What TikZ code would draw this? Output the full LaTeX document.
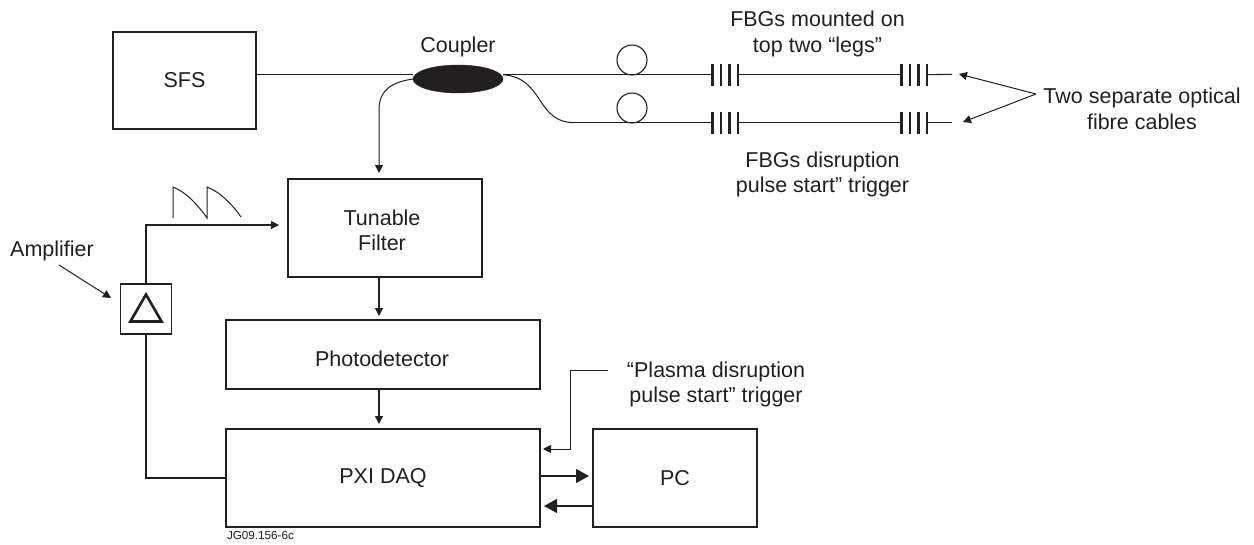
\documentclass[tikz,border=0pt]{standalone}
\usepackage{fontspec}
\setmainfont{Liberation Sans}
\usetikzlibrary{arrows.meta,shapes.geometric}
\definecolor{ink}{HTML}{231F20}
\tikzset{
  x=1pt,y=-1pt,
  every node/.style={font=\fontsize{21.5}{25.5}\selectfont,text=ink},
  box/.style={draw=ink,line width=1.1pt,rectangle,inner sep=0pt,outer sep=0pt},
  lbl/.style={align=center,inner sep=0pt},
  wire/.style={draw=ink,line width=1.1pt},
  thin wire/.style={draw=ink,line width=1pt},
  smalltip/.style={-{Triangle[length=8pt,width=8pt]}},
  bigtip/.style={-{Triangle[length=13pt,width=14pt]}},
  loopc/.style={draw=ink,line width=1.1pt,circle,minimum size=30pt,inner sep=0pt,outer sep=0pt},
  bar/.style={draw=ink,line width=2.5pt}
}
\newcommand{\gratingbars}[2]{%
  \foreach \gx in {0,8.4,16.8,25.2}{\draw[bar] (#1+\gx,#2-11) -- (#1+\gx,#2+11);}
}
\begin{document}
\begin{tikzpicture}
\useasboundingbox[fill=white] (0,0) rectangle (1254,544);
% boxes
\node[box,minimum width=143pt,minimum height=97pt] (sfs) at (184.5,80.5) {SFS};
\node[box,minimum width=194pt,minimum height=98pt,label={[lbl,name=tfilter,xshift=-3pt,yshift=-2.5pt]center:Tunable\\Filter}] (filter) at (385,228) {};
\node[box,minimum width=314pt,minimum height=69pt,label={[lbl,name=tpd,xshift=-1pt,yshift=-4pt]center:Photodetector}] (pd) at (383,354.5) {};
\node[box,minimum width=314pt,minimum height=98pt] (daq) at (383,478) {PXI DAQ};
\node[box,minimum width=164pt,minimum height=98pt] (pc) at (675,478) {PC};
\node[box,minimum width=51pt,minimum height=50pt] (amp) at (146,309) {};
\node[draw=ink,line width=2.6pt,regular polygon,regular polygon sides=3,inner sep=0pt,minimum size=36pt] (tri) at (146,312.5) {};
% coupler and loops
\node[ellipse,fill=ink,draw=ink,minimum width=90pt,minimum height=28pt,inner sep=0pt,outer sep=0pt] (coupler) at (458,79) {};
\node[loopc] (loopa) at (632,60) {};
\node[loopc] (loopb) at (632,108) {};
% labels
\node[lbl] (tcoupler) at (458,47) {Coupler};
\node[lbl] (tlegs) at (817.5,34) {FBGs mounted on\\top two “legs”};
\node[lbl] (tdis) at (822.5,174.5) {FBGs disruption\\pulse start” trigger};
\node[lbl] (tcables) at (1142,109) {Two separate optical\\fibre cables};
\node[lbl] (tamp) at (52,251) {Amplifier};
\node[lbl] (ttrig) at (716,384.5) {“Plasma disruption\\pulse start” trigger};
\node[lbl,font=\fontsize{11.7}{14}\selectfont] (tjg) at (260.5,535) {JG09.156-6c};
% free ends
\coordinate (s0) at (257,74.7);
\coordinate (c0) at (413,74.7);
\coordinate (c1) at (503,74.7);
\coordinate (a1) at (712.7,74.7);
\coordinate (a2) at (738,74.7);
\coordinate (a3) at (901.7,74.7);
\coordinate (a4) at (926.7,74.7);
\coordinate (a5) at (952,74.3);
\coordinate (b0) at (575,122.7);
\coordinate (b1) at (712.7,122.7);
\coordinate (b2) at (738,122.7);
\coordinate (b3) at (901.7,122.7);
\coordinate (b4) at (926.7,122.7);
\coordinate (b5) at (952,122.7);
\coordinate (apex) at (1036,94);
\coordinate (tip1) at (959,74);
\coordinate (tip2) at (963,122);
% optical fibre
\draw[wire] (s0) -- (c0);
\draw[wire] (c1) -- (a1);
\draw[wire] (a2) -- (a3);
\draw[wire] (a4) -- (a5);
\draw[thin wire] (c1) .. controls (545,78) and (535,122.7) .. (b0);
\draw[wire] (b0) -- (b1);
\draw[wire] (b2) -- (b3);
\draw[wire] (b4) -- (b5);
\gratingbars{712.7}{75}
\gratingbars{901.7}{75}
\gratingbars{712.7}{123}
\gratingbars{901.7}{123}
\coordinate (bend) at (379,110);
\coordinate (filtertip) at (379,173);
\draw[thin wire,smalltip] (coupler.west) .. controls (392,82) and (379,90) .. (bend) -- (filtertip);
% annotation arrows
\draw[thin wire,smalltip] (apex) -- (tip1);
\draw[thin wire,smalltip] (apex) -- (tip2);
% block connections
\coordinate (pdtip) at (379,316);
\coordinate (daqtip) at (379,424);
\draw[wire,smalltip] (filter.south -| pdtip) -- (pdtip);
\draw[wire,smalltip] (pd.south -| daqtip) -- (daqtip);
\coordinate (ampout) at (146,225);
\coordinate (ampend) at (279,225);
\draw[wire,smalltip] (amp.north) -- (ampout) -- (ampend);
\draw[wire] (amp.south) |- (daq.west);
\coordinate (ampstart) at (59,265);
\coordinate (amptip) at (111,298);
\draw[thin wire,smalltip] (ampstart) -- (amptip);
% trigger
\coordinate (trigstart) at (608,370.5);
\coordinate (trigb) at (570.5,370.5);
\coordinate (trigc) at (570.5,449);
\coordinate (trigtip) at (543,449);
\draw[thin wire,smalltip] (trigstart) -- (trigb) -- (trigc) -- (trigtip);
% DAQ <-> PC
\coordinate (dp1) at (540,476);
\coordinate (dp2) at (589,476);
\coordinate (pd1) at (593,506);
\coordinate (pd2) at (544,506);
\draw[wire,bigtip] (dp1) -- (dp2);
\draw[wire,bigtip] (pd1) -- (pd2);
% sawtooth
\draw[thin wire,line join=miter] (173,218) -- (173,187) .. controls (186,192) and (198,205) .. (207,218) -- (207,187) .. controls (220,192) and (232,204) .. (241,217);
\end{tikzpicture}
\end{document}
